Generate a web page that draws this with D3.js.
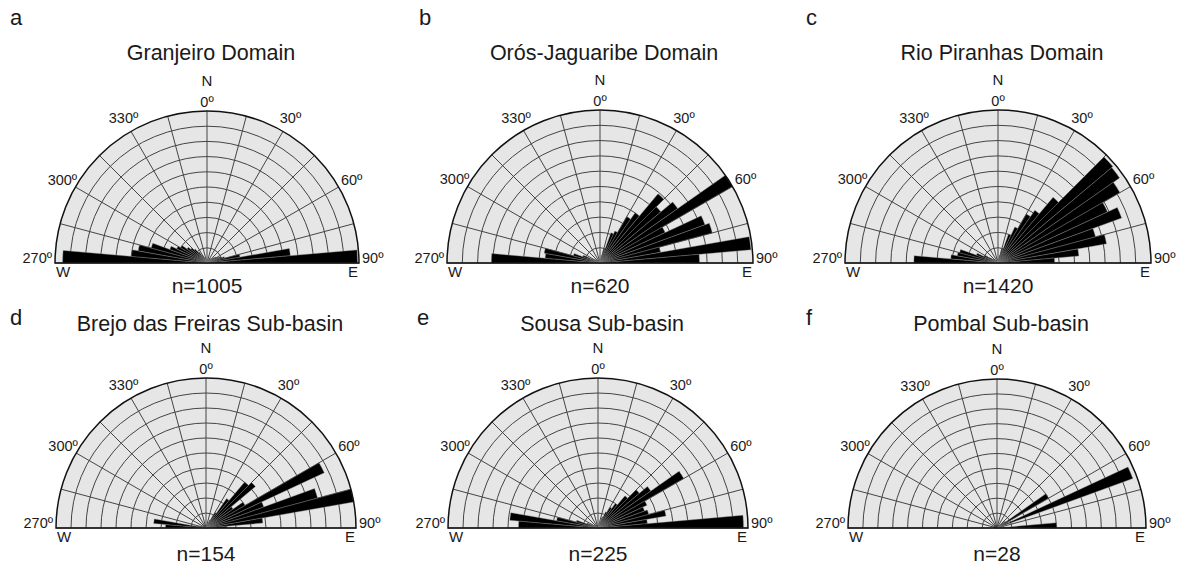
<!DOCTYPE html>
<html>
<head>
<meta charset="utf-8">
<script src="https://cdn.jsdelivr.net/npm/d3@7"></script>
<style>
  body { margin: 0; background: #fff; }
  svg text { font-family: "Liberation Sans", Arial, sans-serif; fill: #1a1a1a; }
</style>
</head>
<body>
<svg width="1184" height="564"></svg>
<script>
// 5 degree bins, start azimuth (negative = west of north, -90 is 270º)
const binStarts = [-90, -85, -80, -75, -70, -65, -60, -55, -50, -45, -40, -35,
                   -30, -25, -20, -15, -10, -5, 0, 5, 10, 15, 20, 25,
                   30, 35, 40, 45, 50, 55, 60, 65, 70, 75, 80, 85];

// petal lengths in ring units (10 = outer circle)
const granjeiro = [9.5, 5.0, 4.6, 3.8, 2.6, 2.2, 2.0, 1.6, 1.4, 1.2, 0.9, 0.6,
                   0.4, 0.3, 0.2, 0.1, 0.1, 0.1, 0.1, 0.1, 0.1, 0.2, 0.2, 0.2,
                   0.3, 0.3, 0.4, 0.5, 0.6, 0.7, 0.8, 1.0, 1.2, 2.2, 5.5, 9.9];
const orosJaguaribe = [7.1, 3.6, 3.7, 1.8, 1.2, 0.6, 0.4, 0.3, 0.2, 0.2, 0.1, 0.1,
                       0.1, 0.1, 0.1, 0.1, 0.1, 0.1, 0.2, 0.3, 0.5, 1.0, 2.1, 2.3,
                       3.5, 4.0, 5.9, 5.2, 6.2, 10.0, 4.7, 7.3, 7.6, 4.0, 9.9, 6.5];
const rioPiranhas = [5.5, 3.1, 2.7, 2.6, 1.5, 1.0, 0.6, 0.4, 0.3, 0.2, 0.2, 0.1,
                     0.1, 0.1, 0.1, 0.1, 0.1, 0.1, 0.2, 0.3, 0.5, 1.0, 2.0, 2.6,
                     3.7, 4.2, 5.6, 9.8, 9.7, 9.2, 7.9, 8.6, 6.6, 7.2, 5.3, 3.7];
const brejoFreiras = [2.7, 3.5, 0.6, 0.4, 0.2, 0, 0, 0, 0, 0, 0, 0,
                      0, 0, 0, 0, 0, 0, 0, 0, 0, 0, 0.3, 0.6,
                      1.2, 2.4, 4.0, 4.3, 2.2, 3.0, 8.7, 4.1, 7.7, 10.0, 3.8, 1.4];
const sousa = [5.3, 5.9, 2.8, 1.5, 0.8, 0.5, 0.3, 0.2, 0, 0, 0, 0,
               0, 0, 0, 0, 0, 0, 0, 0, 0.2, 0.4, 0.8, 1.2,
               1.6, 2.0, 2.8, 3.6, 4.3, 6.6, 3.6, 3.3, 3.5, 4.6, 3.3, 9.7];
const pombal = [0, 0, 0, 0, 0, 0, 0, 0, 0, 0, 0, 0,
                0, 0, 0, 0, 0, 0, 0, 0, 0, 0, 0, 0,
                0, 0, 0, 0.5, 0.7, 4.0, 0.8, 9.7, 0.5, 0, 0, 4.0];

const letters = ['a', 'b', 'c', 'd', 'e', 'f'];
const titles = ['Granjeiro Domain', 'Orós-Jaguaribe Domain', 'Rio Piranhas Domain',
                'Brejo das Freiras Sub-basin', 'Sousa Sub-basin', 'Pombal Sub-basin'];
const counts = [1005, 620, 1420, 154, 225, 28];
const series = [granjeiro, orosJaguaribe, rioPiranhas, brejoFreiras, sousa, pombal];

const rings = [1, 2, 3, 4, 5, 6, 7, 8, 9, 10];
const spokes = [-90, -75, -60, -45, -30, -15, 0, 15, 30, 45, 60, 75, 90];
const labelAngles = [-60, -30, 30, 60];
const labelText = ['300º', '330º', '30º', '60º'];

// layout
const layout = [
  { cx: 207, cy: 263, R: 152, titleY: -203, nY: 30, letterX: 10, letterY: 25 },
  { cx: 600, cy: 263, R: 153, titleY: -203, nY: 30, letterX: 419, letterY: 25 },
  { cx: 998, cy: 263, R: 153, titleY: -203, nY: 30, letterX: 806, letterY: 25 },
  { cx: 206, cy: 528, R: 150, titleY: -197, nY: 33, letterX: 10, letterY: 325 },
  { cx: 598, cy: 528, R: 150, titleY: -197, nY: 33, letterX: 417, letterY: 325 },
  { cx: 997, cy: 528, R: 149, titleY: -197, nY: 33, letterX: 806, letterY: 325 }
];

const svg = d3.select('svg');
const angle = d3.scaleLinear().domain([-90, 90]).range([-Math.PI / 2, Math.PI / 2]);

layout.forEach((L, k) => {
  const r = d3.scaleLinear().domain([0, 10]).range([0, L.R]);

  svg.append('text')
    .attr('x', L.letterX).attr('y', L.letterY)
    .style('font-size', '22px')
    .text(letters[k]);

  const g = svg.append('g').attr('transform', `translate(${L.cx},${L.cy})`);

  // background half disc
  g.append('path')
    .attr('d', d3.arc()({ innerRadius: 0, outerRadius: L.R, startAngle: -Math.PI / 2, endAngle: Math.PI / 2 }))
    .attr('fill', '#e6e6e6');

  // rings
  g.selectAll('.ring').data(rings.slice(0, -1)).join('path')
    .attr('class', 'ring')
    .attr('d', d => {
      const p = d3.path();
      p.moveTo(-r(d), 0);
      p.arc(0, 0, r(d), Math.PI, 2 * Math.PI);
      return p.toString();
    })
    .attr('fill', 'none').attr('stroke', '#444').attr('stroke-width', 1);

  // spokes
  g.selectAll('.spoke').data(spokes).join('line')
    .attr('class', 'spoke')
    .attr('x1', 0).attr('y1', 0)
    .attr('x2', d => d3.pointRadial(angle(d), L.R)[0])
    .attr('y2', d => d3.pointRadial(angle(d), L.R)[1])
    .attr('stroke', '#444').attr('stroke-width', 1);

  // petals
  const arc = d3.arc().innerRadius(0);
  g.selectAll('.petal').data(binStarts.map((b, i) => ({ b, v: series[k][i] })).filter(d => d.v > 0))
    .join('path')
    .attr('class', 'petal')
    .attr('d', d => arc({ outerRadius: r(d.v), startAngle: angle(d.b), endAngle: angle(d.b + 5) }))
    .attr('fill', '#000')
    .attr('stroke', '#8a8a8a').attr('stroke-width', 0.4);

  // outline
  g.append('path')
    .attr('d', () => {
      const p = d3.path();
      p.moveTo(-L.R, 0);
      p.arc(0, 0, L.R, Math.PI, 2 * Math.PI);
      p.closePath();
      return p.toString();
    })
    .attr('fill', 'none').attr('stroke', '#111').attr('stroke-width', 1.5);

  // labels
  g.append('text').attr('x', 4).attr('y', L.titleY)
    .attr('text-anchor', 'middle').style('font-size', '21.5px')
    .text(titles[k]);
  g.append('text').attr('x', 0).attr('y', -L.R - 25)
    .attr('text-anchor', 'middle').style('font-size', '15px').text('N');
  g.append('text').attr('x', 0).attr('y', -L.R - 4)
    .attr('text-anchor', 'middle').style('font-size', '14.5px').text('0º');
  g.selectAll('.deg').data(labelAngles).join('text')
    .attr('class', 'deg')
    .attr('x', d => d3.pointRadial(angle(d), L.R + 15)[0])
    .attr('y', d => d3.pointRadial(angle(d), L.R + 15)[1])
    .attr('dy', '0.35em')
    .attr('text-anchor', 'middle').style('font-size', '14.5px')
    .text((d, i) => labelText[i]);
  g.append('text').attr('x', L.R + 3).attr('y', 0)
    .attr('text-anchor', 'start').style('font-size', '14.5px').text('90º');
  g.append('text').attr('x', -L.R - 3).attr('y', 0)
    .attr('text-anchor', 'end').style('font-size', '14.5px').text('270º');
  g.append('text').attr('x', -L.R + 1).attr('y', 14)
    .attr('text-anchor', 'start').style('font-size', '15px').text('W');
  g.append('text').attr('x', L.R - 1).attr('y', 14)
    .attr('text-anchor', 'end').style('font-size', '15px').text('E');
  g.append('text').attr('x', 0).attr('y', L.nY)
    .attr('text-anchor', 'middle').style('font-size', '21px')
    .text('n=' + counts[k]);
});
</script>
</body>
</html>
